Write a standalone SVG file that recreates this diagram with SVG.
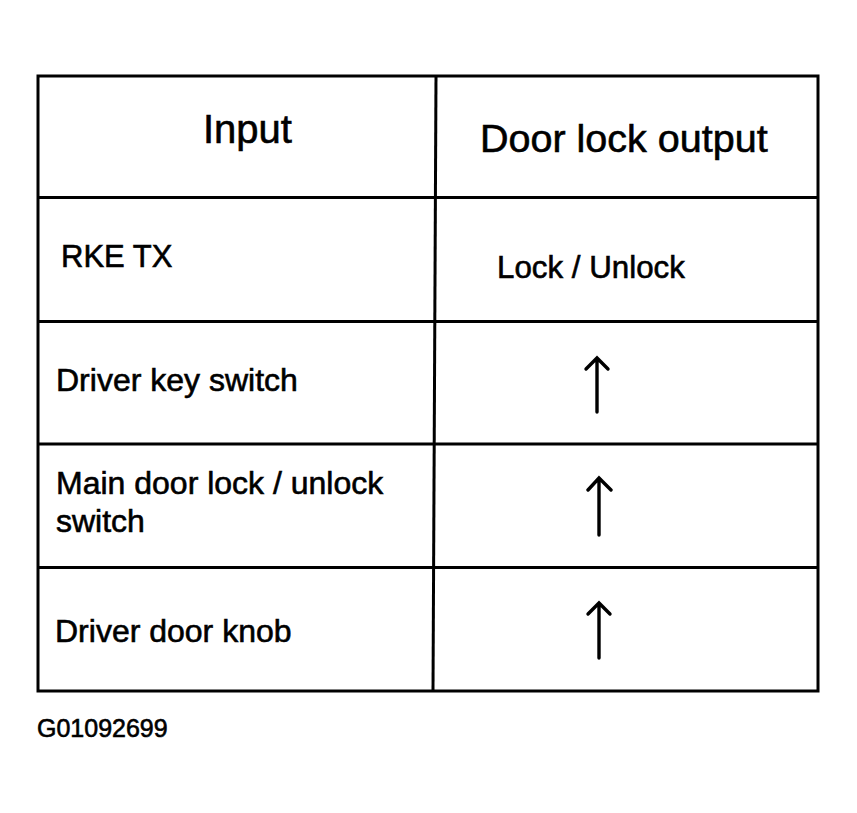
<svg xmlns="http://www.w3.org/2000/svg" width="857" height="813" viewBox="0 0 857 813">
<style>
.t{font-family:"Liberation Sans",Arial,Helvetica,sans-serif;fill:#000;stroke:#000;stroke-width:0.6}
.ln{stroke:#000;stroke-width:3;fill:none}
.ar{stroke:#000;stroke-width:3.4;fill:none;stroke-linecap:round;stroke-linejoin:miter}
</style>
<rect width="857" height="813" fill="#fff"/>
<g id="table">
<rect class="ln" x="38" y="76" width="780" height="615"/>
<line class="ln" x1="436" y1="76" x2="433" y2="691"/>
<line class="ln" x1="38" y1="197.5" x2="818" y2="197.5"/>
<line class="ln" x1="38" y1="321.5" x2="818" y2="321.5"/>
<line class="ln" x1="38" y1="444" x2="818" y2="444"/>
<line class="ln" x1="38" y1="567.5" x2="818" y2="567.5"/>
</g>
<g id="header-input"><text class="t" x="203" y="143" font-size="40">Input</text></g>
<g id="header-output"><text class="t" x="480" y="152" font-size="39.5">Door lock output</text></g>
<g id="row-rke"><text class="t" x="61" y="267" font-size="31">RKE TX</text></g>
<g id="out-rke"><text class="t" x="497" y="278" font-size="31.3">Lock / Unlock</text></g>
<g id="row-key"><text class="t" x="56" y="391" font-size="32">Driver key switch</text></g>
<g id="row-main"><text class="t" x="56" y="494" font-size="32">Main door lock / unlock</text><text class="t" x="56" y="532" font-size="32">switch</text></g>
<g id="row-knob"><text class="t" x="55" y="642" font-size="32">Driver door knob</text></g>
<g id="arrows">
<path class="ar" d="M597 412V358M586 369L597 358L608 369"/>
<path class="ar" d="M599 535V478M588 490L599 478L611 490"/>
<path class="ar" d="M599 658V603M588 614L599 603L610 614"/>
</g>
<g id="caption"><text class="t" x="37" y="737" font-size="25">G01092699</text></g>
</svg>
